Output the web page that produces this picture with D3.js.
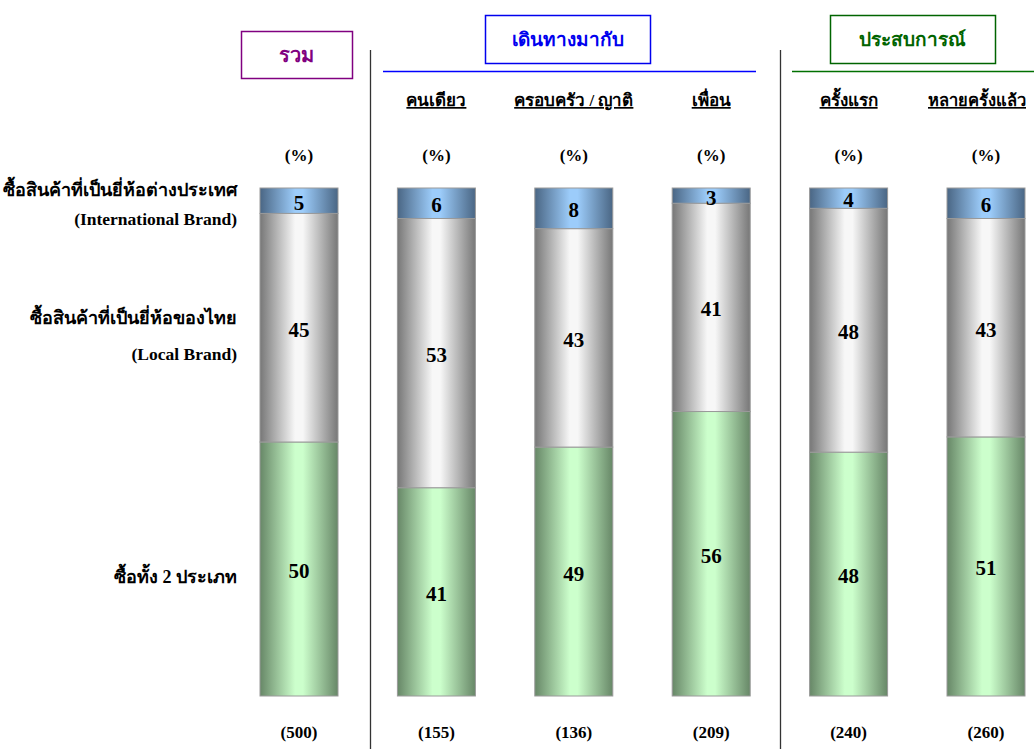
<!DOCTYPE html>
<html><head><meta charset="utf-8">
<script src="https://cdn.jsdelivr.net/npm/d3@7"></script>
<style>body{margin:0;background:#fff}svg{display:block}</style>
</head><body>
<script>
const categories = ["รวม","คนเดียว","ครอบครัว / ญาติ","เพื่อน","ครั้งแรก","หลายครั้งแล้ว"];
const bothTypes = [50,41,49,56,48,51];
const localBrand = [45,53,43,41,48,43];
const intlBrand = [5,6,8,3,4,6];
const bases = ["(500)","(155)","(136)","(209)","(240)","(260)"];
const seriesNames = [
  ["ซื้อทั้ง 2 ประเภท"],
  ["ซื้อสินค้าที่เป็นยี่ห้อของไทย","(Local Brand)"],
  ["ซื้อสินค้าที่เป็นยี่ห้อต่างประเทศ","(International Brand)"]
];
const groups = [
  {name:"รวม", from:0, to:0, color:"#800080"},
  {name:"เดินทางมากับ", from:1, to:3, color:"#0000ee"},
  {name:"ประสบการณ์", from:4, to:5, color:"#006400"}
];

const W=1034,H=749;
const FONT="'Liberation Serif','Times New Roman',serif";
const svg=d3.select("body").append("svg").attr("width",W).attr("height",H).style("font-family",FONT);
const x=d3.scalePoint().domain(categories).range([299,986]);
const y=d3.scaleLinear().domain([0,100]).range([696,188]);
const bw=78;

const defs=svg.append("defs");
function grad(id,edge,mid){
  const g=defs.append("linearGradient").attr("id",id).attr("x1","0%").attr("x2","100%");
  [[0,edge],[0.45,mid],[0.55,mid],[1,edge]].forEach(([o,c])=>g.append("stop").attr("offset",o).attr("stop-color",c));
}
grad("gGreen","#678767","#ccffcc");
grad("gGray","#777777","#f7f7f7");
grad("gBlue","#4a6684","#9cccfa");

const rows=categories.map((c,i)=>({cat:c,vals:[bothTypes[i],localBrand[i],intlBrand[i]]}));
const stack=d3.stack().keys([0,1,2]).value((d,k)=>d.vals[k])(rows);
const fills=["url(#gGreen)","url(#gGray)","url(#gBlue)"];

stack.forEach((layer,li)=>{
  const g=svg.append("g");
  g.selectAll("rect").data(layer).join("rect")
    .attr("x",d=>x(d.data.cat)-bw/2).attr("width",bw)
    .attr("y",d=>y(d[1])).attr("height",d=>y(d[0])-y(d[1]))
    .attr("fill",fills[li]).attr("stroke","#9a9a9a").attr("stroke-width",1);
  g.selectAll("text").data(layer).join("text")
    .attr("x",d=>x(d.data.cat))
    .attr("y",d=>(y(d[0])+y(d[1]))/2+9)
    .attr("text-anchor","middle").attr("font-weight","bold").attr("font-size",21)
    .text(d=>d[1]-d[0]);
});

// (%) and bases
svg.selectAll("text.pct").data(categories).join("text").attr("class","pct")
  .attr("x",d=>x(d)).attr("y",161).attr("text-anchor","middle")
  .attr("font-weight","bold").attr("font-size",17).text("(%)");
svg.selectAll("text.base").data(categories).join("text").attr("class","base")
  .attr("x",d=>x(d)).attr("y",738).attr("text-anchor","middle")
  .attr("font-weight","bold").attr("font-size",17).text((d,i)=>bases[i]);

// column headers (underlined), except the total column
svg.selectAll("text.hdr").data(categories.slice(1)).join("text").attr("class","hdr")
  .attr("x",(d,i)=>x(d)-(i===4?9:0)).attr("y",106).attr("text-anchor","middle")
  .attr("font-weight","bold").attr("font-size",(d,i)=>i===4?16.5:17)
  .attr("text-decoration","underline").text(d=>d);

// group boxes
const boxes=[{x:241,y:31,w:111,h:47},{x:485,y:15,w:165,h:48},{x:830,y:15,w:165,h:48}];
groups.forEach((gr,i)=>{
  const b=boxes[i];
  svg.append("rect").attr("x",b.x+0.5).attr("y",b.y+0.5).attr("width",b.w).attr("height",b.h)
    .attr("fill","#fff").attr("stroke",gr.color).attr("stroke-width",1.5);
  svg.append("text").attr("x",b.x+b.w/2).attr("y",b.y+b.h/2+7).attr("text-anchor","middle")
    .attr("font-weight","bold").attr("font-size",i===0?20:19).attr("fill",gr.color).text(gr.name);
});
// group underlines
svg.append("line").attr("x1",383).attr("x2",756).attr("y1",71.5).attr("y2",71.5).attr("stroke","#0000ff").attr("stroke-width",1.3);
svg.append("line").attr("x1",792).attr("x2",1034).attr("y1",71.5).attr("y2",71.5).attr("stroke","#007000").attr("stroke-width",1.3);
// dividers
[370.5,780.5].forEach(px=>svg.append("line").attr("x1",px).attr("x2",px).attr("y1",50).attr("y2",749).attr("stroke","#333").attr("stroke-width",1.3));

// left labels
const lab=[[{t:seriesNames[2][0],y:196,s:18},{t:seriesNames[2][1],y:225,s:17.5}],
           [{t:seriesNames[1][0],y:324,s:18},{t:seriesNames[1][1],y:360,s:17.5}],
           [{t:seriesNames[0][0],y:583,s:18}]];
lab.flat().forEach(l=>svg.append("text").attr("x",237).attr("y",l.y).attr("text-anchor","end")
  .attr("font-weight","bold").attr("font-size",l.s).text(l.t));
</script>
</body></html>
